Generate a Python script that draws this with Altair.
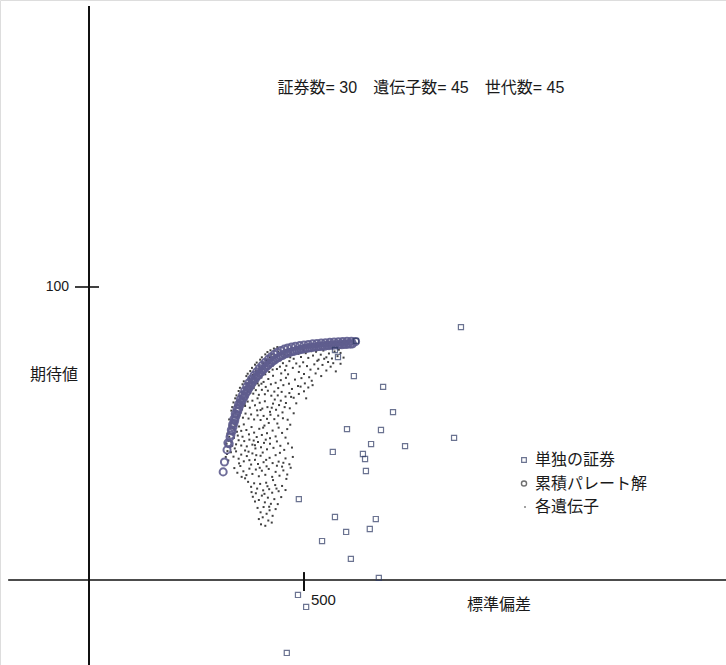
import altair as alt
import pandas as pd

# Individual securities: standard deviation / expected value
sec_sd = [865, 572, 579, 616, 684, 707, 600, 679, 656, 735, 849, 567, 637, 642,
          644, 488, 572, 667, 653, 598, 542, 609, 674, 486, 505, 460, 621]
sec_mean = [86.3, 78.5, 76.1, 69.6, 65.9, 57.3, 51.5, 51.2, 46.4, 45.7, 48.5, 43.7,
            43.0, 41.3, 37.2, 27.6, 21.5, 20.8, 17.4, 16.4, 13.3, 7.2, 0.7, -5.1,
            -9.2, -24.9, 81.6]

# Cumulative Pareto solutions (rows of the frontier band)
pareto_outer = [
    (312, 36.9), (315, 40.3), (321, 44.4), (323, 46.8), (328, 48.8), (331, 51.2),
    (334, 53.1), (337, 55.0), (340, 56.7), (344, 58.4), (348, 60.0), (352, 61.6),
    (357, 63.1), (362, 64.6), (367, 66.0), (372, 67.3), (378, 68.6), (384, 69.9),
    (390, 71.1), (396, 72.2), (403, 73.3), (410, 74.3), (417, 75.3), (424, 76.2),
    (431, 77.0), (438, 77.7), (446, 78.3), (454, 78.8), (462, 79.2), (471, 79.5),
    (480, 79.8), (490, 80.0), (500, 80.2), (510, 80.4), (520, 80.6), (530, 80.7),
    (540, 80.9), (550, 81.0), (560, 81.1), (570, 81.2), (580, 81.3), (590, 81.4),
    (600, 81.5), (610, 81.5), (620, 81.4),
]
pareto_mid = [
    (326, 46.5), (330, 49.5), (335, 52.3), (339, 54.4), (343, 56.5), (348, 58.6),
    (353, 60.5), (359, 62.1), (365, 63.8), (371, 65.3), (377, 66.7), (383, 68.1),
    (390, 69.4), (397, 70.6), (404, 71.7), (412, 72.8), (420, 73.9), (428, 74.8),
    (436, 75.7), (445, 76.4), (454, 77.1), (463, 77.6), (473, 78.0), (483, 78.4),
    (493, 78.7), (503, 79.0), (513, 79.3), (523, 79.5), (533, 79.7), (543, 79.9),
    (553, 80.1), (563, 80.2), (573, 80.3), (583, 80.4), (593, 80.5), (603, 80.6),
    (613, 80.6),
]
pareto_inner = [
    (333, 50.8), (337, 53.5), (341, 55.6), (346, 57.6), (351, 59.6), (356, 61.2),
    (362, 62.8), (368, 64.4), (374, 65.9), (380, 67.3), (387, 68.6), (394, 69.9),
    (401, 71.0), (408, 72.1), (416, 73.2), (424, 74.2), (432, 75.1), (441, 75.9),
    (450, 76.6), (459, 77.2), (468, 77.7), (478, 78.1), (488, 78.5), (498, 78.8),
    (508, 79.1), (518, 79.3), (528, 79.5), (538, 79.7), (548, 79.8), (558, 80.0),
    (568, 80.1), (578, 80.2), (588, 80.3), (598, 80.4), (608, 80.5),
]

# Every gene of every generation
genes_edge = [
    (318, 42.0), (320, 46.5), (322, 50.0), (326, 54.8), (331, 57.8), (336, 60.6),
    (343, 63.0), (351, 65.6), (360, 67.8), (369, 70.4), (379, 72.4), (390, 74.2),
    (402, 76.0), (415, 77.8), (430, 79.0), (322, 44.0), (327, 52.6), (333, 59.0),
    (340, 62.0), (348, 64.5), (357, 66.8), (366, 69.6), (375, 71.3), (386, 73.5),
    (398, 75.2), (410, 77.0), (422, 78.4), (438, 79.5),
]
genes_dense = [
    (340, 59.5), (345, 61.0), (350, 62.8), (355, 64.0), (361, 65.5), (367, 67.0),
    (373, 68.3), (381, 70.0), (388, 71.3), (396, 72.8), (405, 74.0), (413, 75.0),
    (421, 76.0), (445, 75.0), (455, 76.9), (468, 76.0), (334, 56.5), (338, 58.0),
    (329, 52.0), (325, 47.5), (321, 43.0), (324, 40.8), (328, 45.5), (335, 49.8),
    (338, 51.5), (344, 54.0), (350, 56.2), (356, 58.2), (362, 60.0), (368, 62.5),
    (375, 63.8), (383, 65.5), (392, 67.1), (401, 67.0), (410, 70.2), (419, 71.0),
    (427, 71.8), (437, 72.0), (447, 70.5), (456, 71.6), (463, 70.2), (488, 71.0),
    (500, 70.3), (512, 69.2), (527, 70.5), (540, 69.6),
]
genes_top = [
    (425, 77.0), (432, 76.2), (440, 78.0), (447, 77.1), (452, 75.9), (458, 78.4),
    (463, 76.8), (470, 77.6), (476, 75.5), (481, 78.9), (487, 77.2), (493, 76.1),
    (498, 78.5), (504, 77.4), (510, 75.8), (516, 78.1), (521, 76.6), (528, 77.9),
    (534, 75.2), (539, 76.9), (545, 78.3), (552, 76.0), (558, 77.3), (565, 75.6),
    (571, 78.0), (578, 76.4), (585, 77.5), (592, 75.9), (412, 75.0), (419, 74.1),
    (428, 73.2), (436, 74.6), (444, 72.8), (451, 74.0), (459, 73.1), (466, 74.7),
    (474, 72.4), (482, 73.9), (490, 72.9), (498, 74.3), (507, 73.0), (515, 71.8),
    (524, 73.6), (533, 72.1), (543, 73.4), (552, 71.5), (562, 72.8), (574, 71.2),
    (556, 74.4), (585, 73.8),
]
genes_upper = [
    (372, 68.9), (378, 67.2), (384, 69.5), (390, 68.0), (395, 66.4), (401, 69.1),
    (406, 67.6), (411, 65.9), (417, 68.6), (423, 66.8), (428, 69.7), (434, 67.3),
    (440, 65.5), (446, 68.2), (452, 66.5), (458, 69.0), (465, 67.0), (472, 65.2),
    (479, 68.4), (486, 66.2), (494, 68.9), (502, 67.1), (510, 65.7), (518, 68.0),
    (364, 65.8), (369, 64.3), (376, 65.1), (382, 63.6), (388, 64.8), (395, 63.2),
    (402, 64.9), (409, 63.4), (416, 64.6), (424, 62.9), (431, 64.3), (439, 63.0),
    (448, 64.2), (457, 62.6), (466, 63.8), (476, 62.2), (488, 63.5), (500, 64.4),
]
genes_middle = [
    (348, 61.5), (353, 60.2), (358, 61.8), (363, 59.4), (369, 60.9), (374, 58.8),
    (380, 61.2), (386, 59.6), (391, 57.9), (397, 60.5), (403, 58.5), (409, 61.0),
    (415, 59.0), (421, 57.4), (428, 60.2), (435, 58.1), (442, 59.7), (450, 57.2),
    (458, 60.4), (467, 58.6), (476, 56.9), (341, 57.3), (346, 55.9), (352, 57.0),
    (358, 55.4), (364, 56.8), (371, 55.1), (377, 56.5), (384, 54.8), (392, 56.2),
    (399, 54.6), (406, 56.0), (414, 55.0), (422, 56.4), (431, 54.9), (440, 56.1),
    (451, 55.2), (462, 54.7),
    (330, 53.5), (334, 51.8), (339, 53.0), (344, 50.6), (349, 52.4), (354, 50.9),
    (360, 53.1), (366, 51.2), (372, 49.7), (378, 52.2), (384, 50.3), (390, 48.8),
    (396, 51.6), (402, 49.5), (408, 52.7), (414, 50.1), (421, 48.4), (427, 51.0),
    (434, 49.0), (441, 52.0), (449, 50.2), (457, 48.6), (326, 48.9), (331, 47.2),
    (337, 48.5), (342, 46.3), (348, 47.7), (354, 45.9), (361, 47.4), (367, 45.6),
    (373, 47.9), (380, 46.2), (387, 44.9), (393, 47.1), (400, 45.3), (407, 46.8),
    (414, 44.6), (421, 46.5), (429, 45.1), (437, 47.3), (445, 45.8), (454, 44.4),
    (463, 46.6), (472, 45.2),
]
genes_lower = [
    (330, 43.6), (336, 42.1), (342, 43.9), (348, 41.4), (354, 42.8), (360, 40.5),
    (367, 42.3), (373, 40.9), (380, 43.2), (386, 41.0), (393, 39.6), (399, 42.4),
    (406, 40.2), (413, 38.8), (420, 41.7), (427, 39.9), (434, 42.6), (441, 40.4),
    (449, 38.7), (457, 41.5), (466, 39.5), (474, 42.0), (338, 38.2), (345, 36.6),
    (352, 38.9), (359, 37.1), (366, 35.8), (373, 38.0), (380, 36.2), (388, 37.7),
    (395, 35.4), (402, 37.3), (410, 35.9), (418, 37.9), (426, 35.2), (434, 36.9),
    (443, 35.6), (452, 37.4), (461, 36.0), (469, 38.3),
    (370, 33.5), (377, 31.8), (384, 33.0), (391, 31.2), (398, 32.8), (405, 30.6),
    (412, 33.2), (419, 31.0), (426, 29.8), (433, 32.4), (441, 30.3), (449, 32.1),
    (457, 30.7), (381, 28.4), (388, 29.6), (395, 27.3), (402, 28.8), (409, 26.5),
    (416, 28.1), (423, 26.0), (431, 27.6), (439, 25.9), (447, 28.3), (392, 24.6),
    (399, 23.1), (406, 24.9), (413, 22.6), (420, 23.8), (427, 21.9), (434, 24.2),
    (395, 20.8), (404, 21.4), (417, 20.3), (425, 19.6),
]
genes_scatter = [
    (333, 45.8), (339, 44.9), (346, 49.3), (357, 48.9), (363, 44.2), (371, 43.8),
    (377, 39.4), (383, 47.6), (389, 42.6), (397, 38.3), (404, 43.5), (411, 47.9),
    (418, 53.6), (425, 58.8), (432, 61.6), (438, 53.4), (446, 61.2), (455, 59.0),
    (461, 51.5), (468, 53.0), (444, 43.4), (452, 40.0), (459, 34.5), (436, 31.2),
    (428, 34.1), (415, 32.0), (408, 29.4), (386, 26.8), (378, 30.0), (363, 34.7),
    (355, 35.2), (349, 39.8), (470, 62.5), (482, 60.3), (492, 66.0), (505, 62.0),
    (520, 66.5), (531, 74.8), (547, 75.5), (568, 74.0), (581, 78.6), (392, 62.0),
    (399, 58.0), (405, 52.0), (386, 46.0), (412, 41.0), (437, 39.0), (419, 25.0),
    (400, 19.0), (410, 18.5),
]

title_text = "証券数= 30\u3000遺伝子数= 45\u3000世代数= 45"
legend_labels = ["単独の証券", "累積パレート解", "各遺伝子"]

X_DOMAIN = [-206.98, 1481.40]
Y_DOMAIN = [-29.01, 197.95]
FONT = "Liberation Sans, Arial, Noto Sans CJK JP, sans-serif"

xs = alt.Scale(domain=X_DOMAIN, nice=False, zero=False)
ys = alt.Scale(domain=Y_DOMAIN, nice=False, zero=False)


def pts(pairs):
    return pd.DataFrame(pairs, columns=["sd", "mean"])


XY = dict(x=alt.X("sd:Q", scale=xs, axis=None),
          y=alt.Y("mean:Q", scale=ys, axis=None))

sec_df = pd.DataFrame({"sd": sec_sd, "mean": sec_mean})
pareto_df = pts(pareto_outer + pareto_mid + pareto_inner)
gene_df = pts(genes_edge + genes_dense + genes_top + genes_upper
              + genes_middle + genes_lower + genes_scatter)

# Axes drawn through the origin, with one tick on each
axis_df = pd.DataFrame([
    {"x": 0, "x2": 0, "y": -29.0, "y2": 195.9, "w": 2.0},
    {"x": -188.0, "x2": 1481.4, "y": 0, "y2": 0, "w": 1.6},
    {"x": 500, "x2": 500, "y": -3.75, "y2": 2.7, "w": 2.0},
    {"x": -32.6, "x2": 23.3, "y": 100, "y2": 100, "w": 1.6},
])
axes = alt.Chart(axis_df).mark_rule(color="#111").encode(
    x=alt.X("x:Q", scale=xs, axis=None), x2="x2:Q",
    y=alt.Y("y:Q", scale=ys, axis=None), y2="y2:Q",
    strokeWidth=alt.StrokeWidth("w:Q", scale=None),
)

genes = alt.Chart(gene_df).mark_square(size=4, color="#1e1e1e", opacity=0.85).encode(**XY)

pareto = alt.Chart(pareto_df).mark_point(
    shape="circle", size=50, filled=False, stroke="#5f5d8e", strokeWidth=2.0, opacity=0.9
).encode(**XY)

secs = alt.Chart(sec_df).mark_point(
    shape="square", size=26, filled=False, stroke="#2d3963", strokeWidth=1.2
).encode(**XY)

# Text labels placed in data units
label_df = pd.DataFrame([
    {"x": -46.5, "y": 100, "t": "100", "a": "right", "s": 14},
    {"x": 516, "y": -6.8, "t": "500", "a": "left", "s": 15},
    {"x": -137, "y": 70.0, "t": "期待値", "a": "left", "s": 16},
    {"x": 879, "y": -8.7, "t": "標準偏差", "a": "left", "s": 16},
    {"x": 772, "y": 167.9, "t": title_text, "a": "center", "s": 16},
])
labels = alt.layer(*[
    alt.Chart(label_df[label_df["a"] == a]).mark_text(
        align=a, baseline="middle", font=FONT, color="#1a1a1a"
    ).encode(
        x=alt.X("x:Q", scale=xs, axis=None), y=alt.Y("y:Q", scale=ys, axis=None),
        text="t:N", size=alt.Size("s:Q", scale=None),
    )
    for a in ["left", "right", "center"]
])

# Legend
leg_df = pd.DataFrame({"t": legend_labels, "row": [0, 1, 2]})
leg_y = alt.Y("row:Q", scale=alt.Scale(domain=[0, 2], range=[460, 507]), axis=None)
leg_text = alt.Chart(leg_df).mark_text(
    align="left", baseline="middle", font=FONT, fontSize=16, color="#1a1a1a"
).encode(x=alt.value(535), y=leg_y, text="t:N")
leg_sq = alt.Chart(leg_df[leg_df.row == 0]).mark_point(
    shape="square", size=22, filled=False, stroke="#2d3963", strokeWidth=1.2
).encode(x=alt.value(524), y=leg_y)
leg_ci = alt.Chart(leg_df[leg_df.row == 1]).mark_point(
    shape="circle", size=26, filled=False, stroke="#333", strokeWidth=1.4
).encode(x=alt.value(524), y=leg_y)
leg_dot = alt.Chart(leg_df[leg_df.row == 2]).mark_square(
    size=3, color="#333"
).encode(x=alt.value(525), y=leg_y)

chart = alt.layer(
    axes, genes, pareto, secs, labels, leg_text, leg_sq, leg_ci, leg_dot
).resolve_scale(y="independent").properties(
    width=726, height=665, padding=0, autosize=alt.AutoSizeParams(type="none")
).configure_view(stroke="transparent", strokeWidth=0).configure(background="white")

chart.save("out.html", embed_options={"renderer": "svg", "actions": False})
